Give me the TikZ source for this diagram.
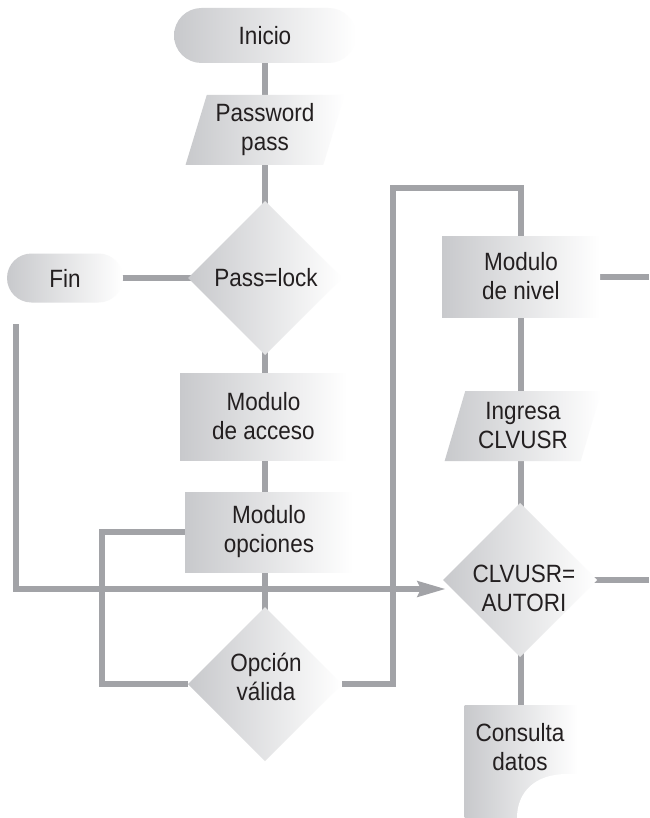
\documentclass[tikz,border=0pt]{standalone}
\usepackage{fontspec}
\setmainfont[FakeStretch=0.9]{Liberation Sans}
\usetikzlibrary{shapes.geometric,shapes.misc,arrows.meta,backgrounds}

\definecolor{lineg}{RGB}{162,163,167}
\definecolor{shadeg}{RGB}{200,201,204}
\definecolor{inkc}{RGB}{35,31,32}

\begin{document}
\begin{tikzpicture}[x=1pt,y=-1pt,
  every node/.style={font=\fontsize{25}{29}\selectfont, text=inkc, align=center,
    inner sep=0pt, outer sep=0pt},
  fillshade/.style={left color=shadeg, right color=white, draw=none},
  pill/.style={fillshade, rounded rectangle},
  procbox/.style={fillshade, rectangle},
  iobox/.style={fillshade, trapezium, trapezium left angle=71,
    trapezium right angle=109, trapezium stretches=true},
  decision/.style={fillshade, diamond, minimum width=154pt, minimum height=154pt},
  link/.style={draw=lineg, line width=6pt},
  tip/.style={-{Stealth[length=28pt,width=15pt,inset=3pt]}},
]
\useasboundingbox (0,0) rectangle (649,818);
\clip (0,0) rectangle (649,818);

% left column
\node[pill, minimum width=182pt, minimum height=55pt] (inicio) at (265,35.5) {Inicio};
\node[iobox, minimum width=159pt, minimum height=70pt] (pw) at (265,130) {Password\\pass};
\node[decision] (lock) at (265,278) {};
\node (lockt) at (266,278) {Pass=lock};
\node[pill, minimum width=116pt, minimum height=49pt] (fin) at (65,278) {Fin};
\node[procbox, minimum width=167pt, minimum height=87pt] (acc) at (263.5,416.5) {Modulo\\de acceso};
\node[procbox, minimum width=168pt, minimum height=80pt] (opc) at (269,532) {Modulo\\opciones};
\node[decision] (val) at (265,684) {};
\node (valt) at (266,677) {Opción\\válida};

% right column
\node[procbox, minimum width=158pt, minimum height=81pt] (niv) at (521,276.5) {Modulo\\de nivel};
\node[iobox, minimum width=157pt, minimum height=70pt] (ing) at (523,426) {Ingresa\\CLVUSR};
\node[decision] (aut) at (520,580) {};
\node (autt) at (524,588) {CLVUSR=\\AUTORI};
\node[procbox, minimum width=113pt, minimum height=130pt, anchor=north] (con) at (521,705) {};
\node (cont) at (520,747) {Consulta\\datos};
% torn corner of the last box
\fill[white] (517,830) -- (517,818) .. controls (517,792) and (535,774) .. (567,774)
  -- (600,774) -- (600,830) -- cycle;

% free ends of the connectors
\coordinate (rightA) at (649,276.5);
\coordinate (rightB) at (649,580);
\coordinate (leftstart) at (16,324);

\begin{scope}[on background layer]
  \fill[white] (0,0) rectangle (649,818);
  \draw[link] (inicio.center) -- (lock.center);
  \draw[link] (fin.center) -- (lock.center);
  \draw[link] (lock.center) -- (val.center);
  \draw[link] (opc.west) -- ++(-83,0) |- (val.west);
  \draw[link] (val.east) -- ++(51,0) -- ++(0,-496) -| (niv.north);
  \draw[link] (niv.center) -- (con.center);
  \draw[link] (niv.center) -- (rightA);
  \draw[link] (aut.center) -- (rightB);
  \draw[link, tip] (leftstart) |- ([xshift=3pt,yshift=-9pt]aut.west);
\end{scope}
\end{tikzpicture}
\end{document}
